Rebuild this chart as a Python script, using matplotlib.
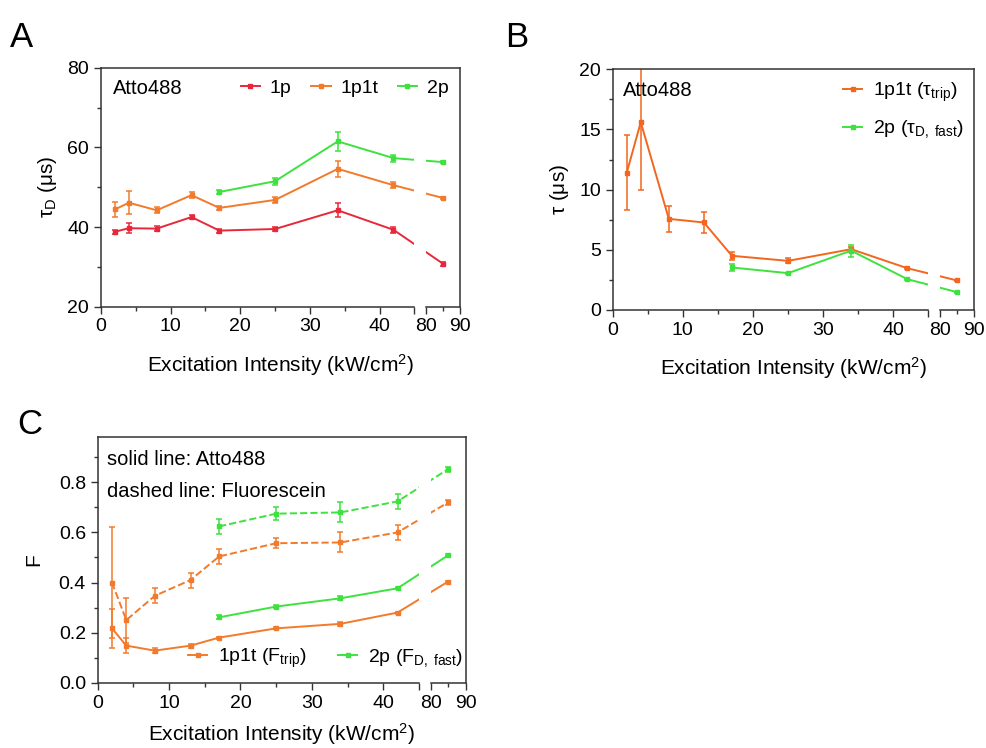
import numpy as np
import matplotlib
matplotlib.use('Agg')
import matplotlib.pyplot as plt
from matplotlib.ticker import FixedLocator, FixedFormatter

plt.rcParams['font.family'] = ['Liberation Sans', 'DejaVu Sans']
plt.rcParams['mathtext.fontset'] = 'custom'
plt.rcParams['mathtext.rm'] = 'Liberation Sans'
plt.rcParams['mathtext.it'] = 'Liberation Sans:italic'
plt.rcParams['mathtext.bf'] = 'Liberation Sans:bold'

# excitation intensities (kW/cm^2)
x_all = [2, 4, 8, 13, 17, 25, 34, 42, 85]
x_2p = [17, 25, 34, 42, 85]

# panel A: diffusion times tau_D (us), Atto488
a_1p = [38.8, 39.7, 39.6, 42.5, 39.1, 39.5, 44.2, 39.3, 30.8]
a_1p_err = [0.5, 1.2, 0.6, 0.5, 0.5, 0.6, 1.8, 0.7, 0.5]
a_1p1t = [44.4, 46.1, 44.2, 48.0, 44.8, 46.8, 54.6, 50.5, 47.3]
a_1p1t_err = [1.9, 2.9, 0.8, 0.8, 0.6, 0.8, 2.0, 0.8, 0.3]
a_2p = [48.8, 51.5, 61.5, 57.3, 56.3]
a_2p_err = [0.6, 0.9, 2.4, 0.9, 0.3]

# panel B: tau (us), Atto488
b_trip = [11.4, 15.6, 7.57, 7.27, 4.5, 4.08, 5.05, 3.47, 2.45]
b_trip_err = [3.1, 5.6, 1.08, 0.9, 0.35, 0.2, 0.2, 0.1, 0.05]
b_fast = [3.53, 3.06, 4.93, 2.56, 1.48]
b_fast_err = [0.3, 0.05, 0.5, 0.05, 0.05]

# panel C: fractions F
c_trip_atto = [0.217, 0.148, 0.128, 0.148, 0.18, 0.217, 0.235, 0.28, 0.404]
c_trip_atto_err = [0.077, 0.03, 0.01, 0.008, 0.004, 0.004, 0.008, 0.004, 0.004]
c_fast_atto = [0.261, 0.304, 0.337, 0.377, 0.509]
c_fast_atto_err = [0.008, 0.006, 0.008, 0.004, 0.004]
c_trip_fluo = [0.40, 0.25, 0.347, 0.41, 0.504, 0.557, 0.56, 0.60, 0.72]
c_trip_fluo_err = [0.22, 0.09, 0.03, 0.03, 0.03, 0.02, 0.04, 0.03, 0.01]
c_fast_fluo = [0.624, 0.675, 0.68, 0.724, 0.853]
c_fast_fluo_err = [0.03, 0.025, 0.04, 0.03, 0.01]

RED = '#e8283a'
ORANGE = '#f27a2c'
ORANGE_B = '#f2661e'
GREEN = '#3ee23e'
AXC = '#333333'

# broken x axis: 0-45 on most of the width, 80-90 squeezed at the right
L_END, R_START = 0.873, 0.905


def fwd(x):
    x = np.asarray(x, dtype=float)
    return np.where(x <= 45, x / 45 * L_END,
                    np.where(x >= 80, R_START + (x - 80) / 10 * (1 - R_START),
                             L_END + (x - 45) / 35 * (R_START - L_END)))


def inv(y):
    y = np.asarray(y, dtype=float)
    return np.where(y <= L_END, y / L_END * 45,
                    np.where(y >= R_START, 80 + (y - R_START) / (1 - R_START) * 10,
                             45 + (y - L_END) / (R_START - L_END) * 35))


def setup_axis(ax, ylim, ymajor, yminor, ylabels, xpad=11):
    ax.set_xscale('function', functions=(fwd, inv))
    ax.set_xlim(0, 90)
    ax.set_ylim(*ylim)
    ax.xaxis.set_major_locator(FixedLocator([0, 10, 20, 30, 40, 45, 80, 90]))
    ax.xaxis.set_major_formatter(FixedFormatter(['0', '10', '20', '30', '40', '', '80', '90']))
    ax.xaxis.set_minor_locator(FixedLocator([5, 15, 25, 35, 85]))
    ax.yaxis.set_major_locator(FixedLocator(ymajor))
    ax.yaxis.set_major_formatter(FixedFormatter(ylabels))
    ax.yaxis.set_minor_locator(FixedLocator(yminor))
    ax.tick_params(which='major', length=5, width=1, labelsize=14, colors=AXC, labelcolor='black')
    ax.tick_params(which='minor', length=3, width=1, colors=AXC)
    ax.tick_params(axis='x', which='both', top=False)
    ax.tick_params(axis='y', which='both', right=False)
    for s in ax.spines.values():
        s.set_color(AXC)
        s.set_linewidth(1.1)
    ax.spines['bottom'].set_visible(False)
    # gap of the broken axis
    ax.axvspan(45, 80, color='white', zorder=2.2, lw=0)
    tr = ax.get_xaxis_transform()
    ax.plot([0, 45], [0, 0], color=AXC, lw=1.1, transform=tr, clip_on=False, zorder=3)
    ax.plot([80, 90], [0, 0], color=AXC, lw=1.1, transform=tr, clip_on=False, zorder=3)
    ax.set_xlabel('Excitation Intensity (kW/cm$^2$)', fontsize=15, labelpad=xpad)


def series(ax, x, y, err, color, ls='-', label=None):
    ax.errorbar(x, y, yerr=err, fmt='none', ecolor=color, elinewidth=1.1,
                capsize=2.2, capthick=1.1, zorder=2)
    ax.plot(x, y, color=color, lw=1.4, ls=ls, marker='s', markersize=2.2,
            label=label, zorder=2)


fig = plt.figure(figsize=(9.86, 7.48), dpi=100)

# Panel A
axA = fig.add_axes([0.1024, 0.5900, 0.3641, 0.3195])
setup_axis(axA, (20, 80), [20, 40, 60, 80], [30, 50, 70], ['20', '40', '60', '80'], xpad=12)
series(axA, x_all, a_1p, a_1p_err, RED, label='1p')
series(axA, x_all, a_1p1t, a_1p1t_err, ORANGE, label='1p1t')
series(axA, x_2p, a_2p, a_2p_err, GREEN, label='2p')
axA.set_ylabel(r'$\mathrm{\tau_{D}}$ (μs)', fontsize=15, labelpad=6)
axA.text(0.033, 0.915, 'Atto488', transform=axA.transAxes, fontsize=14.5, va='center')
axA.legend(loc='center right', bbox_to_anchor=(0.99, 0.915), ncol=3, frameon=False,
           fontsize=14, handlelength=1.0, handletextpad=0.5, columnspacing=1.0,
           borderaxespad=0)

# Panel B
axB = fig.add_axes([0.6214, 0.5856, 0.3667, 0.3218])
setup_axis(axB, (0, 20), [0, 5, 10, 15, 20], [2.5, 7.5, 12.5, 17.5], ['0', '5', '10', '15', '20'], xpad=12)
series(axB, x_all, b_trip, b_trip_err, ORANGE_B, label=r'1p1t ($\mathrm{\tau_{trip}}$)')
series(axB, x_2p, b_fast, b_fast_err, GREEN, label=r'2p ($\mathrm{\tau_{D,\ fast}}$)')
axB.set_ylabel(r'$\mathrm{\tau}$ (μs)', fontsize=15, labelpad=6)
axB.text(0.028, 0.91, 'Atto488', transform=axB.transAxes, fontsize=14.5, va='center')
axB.legend(loc='upper left', bbox_to_anchor=(0.615, 0.985), frameon=False,
           fontsize=14, handlelength=1.0, handletextpad=0.55, labelspacing=0.75,
           borderaxespad=0)

# Panel C
axC = fig.add_axes([0.0991, 0.0873, 0.3732, 0.3281])
setup_axis(axC, (0, 0.98), [0, 0.2, 0.4, 0.6, 0.8], [0.1, 0.3, 0.5, 0.7, 0.9],
           ['0.0', '0.2', '0.4', '0.6', '0.8'], xpad=7)
series(axC, x_all, c_trip_atto, c_trip_atto_err, ORANGE, label=r'1p1t ($\mathrm{F_{trip}}$)')
series(axC, x_2p, c_fast_atto, c_fast_atto_err, GREEN, label=r'2p ($\mathrm{F_{D,\ fast}}$)')
series(axC, x_all, c_trip_fluo, c_trip_fluo_err, ORANGE, ls='--')
series(axC, x_2p, c_fast_fluo, c_fast_fluo_err, GREEN, ls='--')
axC.set_ylabel('F', fontsize=15, labelpad=11)
axC.text(0.025, 0.908, 'solid line: Atto488', transform=axC.transAxes, fontsize=14.5, va='center')
axC.text(0.025, 0.778, 'dashed line: Fluorescein', transform=axC.transAxes, fontsize=14.5, va='center')
axC.legend(loc='center left', bbox_to_anchor=(0.224, 0.10), ncol=2, frameon=False,
           fontsize=14, handlelength=1.0, handletextpad=0.55, columnspacing=1.6,
           borderaxespad=0)

fig.text(0.01, 0.972, 'A', fontsize=25, va='top')
fig.text(0.512, 0.972, 'B', fontsize=25, va='top')
fig.text(0.017, 0.455, 'C', fontsize=25, va='top')

fig.savefig('out.png', dpi=100)
